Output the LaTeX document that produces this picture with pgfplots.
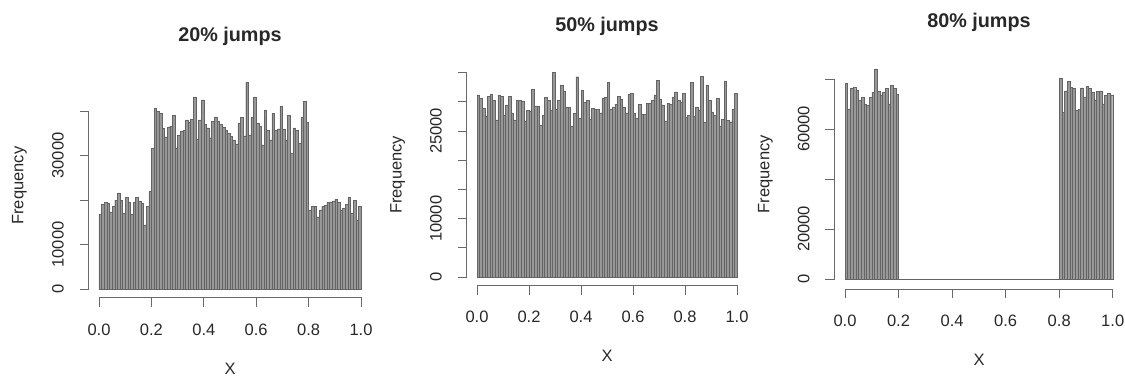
\documentclass[border=0pt]{standalone}
\usepackage{pgfplots}
\pgfplotsset{compat=1.18}
\usepackage{pgfplotstable}
\usepackage{fontspec}
\setmainfont{Liberation Sans}
\definecolor{barfill}{RGB}{152,152,152}
\definecolor{bardraw}{RGB}{100,100,100}
\definecolor{axl}{RGB}{105,105,105}
\definecolor{txt}{RGB}{40,40,40}

\pgfplotstableread{
f
16800
19000
19500
19300
17300
18500
20000
21600
20000
17000
20600
19500
16800
19500
20600
19800
19200
14400
18600
21900
31600
40600
40000
39500
36100
34200
36300
36600
39100
31600
34600
35500
35600
38000
37500
38200
43200
33700
38000
42500
37000
36200
34000
37600
38700
37800
37000
36300
35700
35000
34300
33500
32600
37300
38600
34400
46400
34500
38500
43200
37200
36500
32400
40200
35600
33500
39500
35600
36000
41000
36000
33500
39100
30500
36200
35600
32800
38700
42200
37500
17600
18500
18500
16200
17800
18600
18800
19600
19500
19800
20200
19500
17600
18200
19000
20600
17000
20000
15500
18500
}\dataA

\pgfplotstableread{
f
31200
30600
28900
27600
30900
31300
30300
26900
31200
30900
27700
29500
30900
28100
26900
30300
30200
30100
26700
28500
28400
32100
29300
29200
26000
27700
30800
30300
28500
35000
28700
30300
32900
31900
29000
29000
25900
28000
34300
27200
32000
29900
30300
27000
28900
28800
28700
28100
30600
30800
33300
28800
29000
29600
30900
30500
29000
28100
31300
31400
28000
27200
29600
27800
27800
29700
29700
30300
31200
33700
30500
29500
26700
29800
29600
30800
31700
30300
29900
31500
27400
27700
33300
27600
29000
28500
34400
26500
32900
30300
28300
27700
30600
25900
27000
33600
26800
26600
28700
31400
}\dataB

\pgfplotstableread{
f
78400
68100
76500
76800
75700
71400
72800
70100
69500
72800
74800
84100
75300
73600
74800
76200
70100
77400
76200
74100
0
0
0
0
0
0
0
0
0
0
0
0
0
0
0
0
0
0
0
0
0
0
0
0
0
0
0
0
0
0
0
0
0
0
0
0
0
0
0
0
0
0
0
0
0
0
0
0
0
0
0
0
0
0
0
0
0
0
0
0
80400
66800
75300
79200
76800
76200
67500
67800
76500
72800
77000
76200
74800
71400
75100
75300
70100
73600
74200
73700
}\dataC

\tikzset{
  lab/.style={font=\fontsize{8.25pt}{9pt}\selectfont, text=txt, inner sep=0pt},
  ttl/.style={font=\fontsize{9.9pt}{11pt}\selectfont\bfseries, text=txt, inner sep=0pt},
  al/.style={draw=axl, line width=0.5pt, line cap=rect},
}
\pgfplotsset{
  rhist/.style={
    scale only axis, anchor=south west, hide axis, clip=false,
    xmin=-0.04, xmax=1.04,
  },
  histbar/.style={ybar, bar width=0.01, bar shift=0pt, fill=barfill, draw=bardraw, line width=0.2pt},
}

\begin{document}
\begin{tikzpicture}
\path[use as bounding box] (0,0) rectangle (562.5pt,188.5pt);

\begin{axis}[rhist, at={(44.25pt,39.55pt)}, width=141.5pt, height=112.14pt,
  ymin=-2000, ymax=48400]
\addplot[histbar] table[x expr=\coordindex*0.01+0.005, y=f] {\dataA};
\end{axis}

\begin{axis}[rhist, at={(233.3pt,45.6pt)}, width=140.4pt, height=110.96pt,
  ymin=-1500, ymax=36500]
\addplot[histbar] table[x expr=\coordindex*0.01+0.005, y=f] {\dataB};
\end{axis}

\begin{axis}[rhist, at={(417.15pt,43.85pt)}, width=144.55pt, height=115.1pt,
  ymin=-4100, ymax=88000]
\addplot[histbar] table[x expr=\coordindex*0.01+0.005, y=f] {\dataC};
\end{axis}

% decorations in image pixel coordinates (y downward)
\begin{scope}[x=0.5pt,y=-0.5pt,shift={(0pt,188.5pt)}]
% ---- panel 1
\draw[al] (99,297.9) -- (361,297.9);
\foreach \xx/\tl in {99/0.0,151.4/0.2,203.8/0.4,256.2/0.6,308.6/0.8,361/1.0}{
  \draw[al] (\xx,297.9) -- (\xx,306.4);
  \node[lab,anchor=base] at (\xx,335) {\tl};
}
\draw[al] (88.5,289) -- (88.5,111);
\foreach \yy in {289,244.5,200,155.5,111}{\draw[al] (88.5,\yy) -- (80,\yy);}
\node[lab,anchor=base,rotate=90] at (63.5,289) {0};
\node[lab,anchor=base,rotate=90] at (63.5,244.5) {10000};
\node[lab,anchor=base,rotate=90] at (63.5,155.5) {30000};
\node[lab,anchor=base] at (230,374) {X};
\node[lab,anchor=base,rotate=90] at (23.5,185.7) {Frequency};
\node[ttl,anchor=base] at (230,41.6) {20\% jumps};
% ---- panel 2
\draw[al] (477,285.8) -- (737,285.8);
\foreach \xx/\tl in {477/0.0,529/0.2,581/0.4,633/0.6,685/0.8,737/1.0}{
  \draw[al] (\xx,285.8) -- (\xx,294.3);
  \node[lab,anchor=base] at (\xx,322.8) {\tl};
}
\draw[al] (466.6,277) -- (466.6,72.6);
\foreach \yy in {277,247.8,218.6,189.4,160.2,131,101.8,72.6}{\draw[al] (466.6,\yy) -- (458.1,\yy);}
\node[lab,anchor=base,rotate=90] at (441.6,277) {0};
\node[lab,anchor=base,rotate=90] at (441.6,218.6) {10000};
\node[lab,anchor=base,rotate=90] at (441.6,131) {25000};
\node[lab,anchor=base] at (607,361.8) {X};
\node[lab,anchor=base,rotate=90] at (401.6,174.85) {Frequency};
\node[ttl,anchor=base] at (607,31.9) {50\% jumps};
% ---- panel 3
\draw[al] (845,289.3) -- (1112.7,289.3);
\foreach \xx/\tl in {845/0.0,898.5/0.2,952.1/0.4,1005.6/0.6,1059.2/0.8,1112.7/1.0}{
  \draw[al] (\xx,289.3) -- (\xx,297.8);
  \node[lab,anchor=base] at (\xx,326.3) {\tl};
}
\draw[al] (834.3,279.05) -- (834.3,79.05);
\foreach \yy in {279.05,229.05,179.05,129.05,79.05}{\draw[al] (834.3,\yy) -- (825.8,\yy);}
\node[lab,anchor=base,rotate=90] at (809.3,279.05) {0};
\node[lab,anchor=base,rotate=90] at (809.3,229.05) {20000};
\node[lab,anchor=base,rotate=90] at (809.3,129.05) {60000};
\node[lab,anchor=base] at (979,365.3) {X};
\node[lab,anchor=base,rotate=90] at (769.3,174.2) {Frequency};
\node[ttl,anchor=base] at (979,27.1) {80\% jumps};
\end{scope}
\end{tikzpicture}
\end{document}
